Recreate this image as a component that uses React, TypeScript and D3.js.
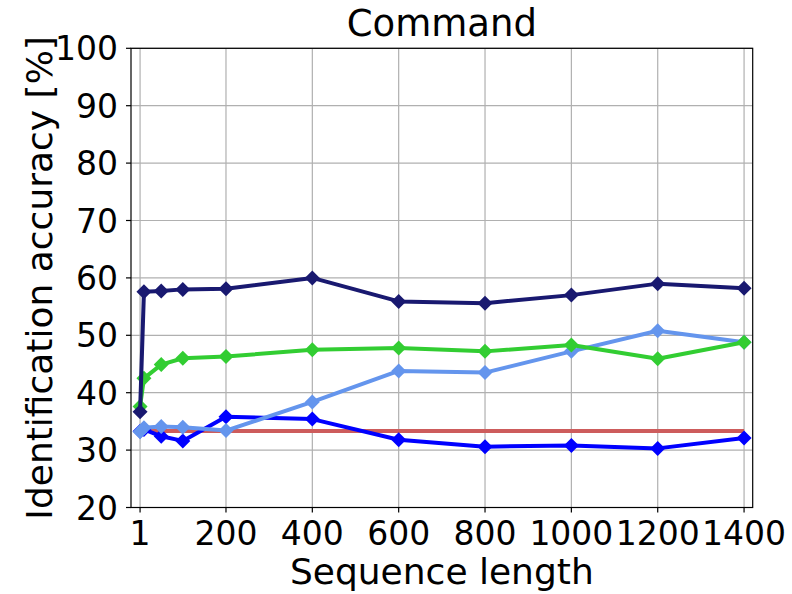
import React from "react";
import * as d3 from "d3";

const title = "Command";
const xLabel = "Sequence length";
const yLabel = "Identification accuracy [%]";
const seqLengths = [1, 10, 50, 100, 200, 400, 600, 800, 1000, 1200, 1400];
const xTicks = [1, 200, 400, 600, 800, 1000, 1200, 1400];
const yTicks = [20, 30, 40, 50, 60, 70, 80, 90, 100];

const chanceLevel = [33.33, 33.33, 33.33, 33.33, 33.33, 33.33, 33.33, 33.33, 33.33, 33.33, 33.33];
const blueSeries = [33.3, 33.6, 32.4, 31.6, 35.8, 35.4, 31.8, 30.6, 30.8, 30.3, 32.1];
const lightBlueSeries = [33.2, 33.9, 34.1, 34.0, 33.4, 38.4, 43.8, 43.5, 47.2, 50.8, 48.8];
const greenSeries = [37.6, 42.5, 44.9, 46.0, 46.3, 47.5, 47.8, 47.2, 48.3, 45.9, 48.8];
const navySeries = [36.7, 57.6, 57.7, 58.0, 58.1, 60.0, 55.9, 55.6, 57.0, 59.0, 58.2];

const series = [
  { name: "chance", values: chanceLevel, color: "#cd5c5c", marker: false },
  { name: "blue", values: blueSeries, color: "#0000ff", marker: true },
  { name: "lightblue", values: lightBlueSeries, color: "#6495ed", marker: true },
  { name: "green", values: greenSeries, color: "#32cd32", marker: true },
  { name: "navy", values: navySeries, color: "#191970", marker: true },
];

const W = 792;
const H = 594;
const left = 131;
const right = 752.7;
const top = 48.3;
const bottom = 507.5;

export default function App() {
  const x = d3.scaleLinear().domain([-20, 1420]).range([left, right]);
  const y = d3.scaleLinear().domain([20, 100]).range([bottom, top]);
  const line = d3
    .line<number>()
    .x((_, i) => x(seqLengths[i]))
    .y((v) => y(v));
  const r = 7.5;
  const diamond = (cx: number, cy: number) =>
    `M${cx},${cy - r}L${cx + r},${cy}L${cx},${cy + r}L${cx - r},${cy}Z`;
  const font = "DejaVu Sans, sans-serif";

  return (
    <svg
      width={W}
      height={H}
      style={{ position: "absolute", left: 0, top: 0, background: "#fff" }}
      fontFamily={font}
    >
      <rect x={0} y={0} width={W} height={H} fill="#fff" />
      {/* grid */}
      <g stroke="#b0b0b0" strokeWidth={1.2}>
        {xTicks.map((t) => (
          <line key={"gx" + t} x1={x(t)} x2={x(t)} y1={top} y2={bottom} />
        ))}
        {yTicks.map((t) => (
          <line key={"gy" + t} x1={left} x2={right} y1={y(t)} y2={y(t)} />
        ))}
      </g>
      {/* series */}
      {series.map((s) => (
        <g key={s.name}>
          <path
            d={line(s.values) || ""}
            fill="none"
            stroke={s.color}
            strokeWidth={4}
            strokeLinejoin="round"
            strokeLinecap="butt"
          />
          {s.marker &&
            s.values.map((v, i) => (
              <path key={i} d={diamond(x(seqLengths[i]), y(v))} fill={s.color} />
            ))}
        </g>
      ))}
      {/* frame */}
      <rect
        x={left}
        y={top}
        width={right - left}
        height={bottom - top}
        fill="none"
        stroke="#000"
        strokeWidth={1.2}
      />
      {/* x ticks */}
      {xTicks.map((t) => (
        <g key={"xt" + t}>
          <line x1={x(t)} x2={x(t)} y1={bottom} y2={bottom + 5} stroke="#000" strokeWidth={1.2} />
          <text x={x(t)} y={545} textAnchor="middle" fontSize={33} fill="#000">
            {t}
          </text>
        </g>
      ))}
      {/* y ticks */}
      {yTicks.map((t) => (
        <g key={"yt" + t}>
          <line x1={left - 5} x2={left} y1={y(t)} y2={y(t)} stroke="#000" strokeWidth={1.2} />
          <text x={118} y={y(t) + 12} textAnchor="end" fontSize={33} fill="#000">
            {t}
          </text>
        </g>
      ))}
      <text x={(left + right) / 2} y={36} textAnchor="middle" fontSize={37} fill="#000">
        {title}
      </text>
      <text x={(left + right) / 2} y={584} textAnchor="middle" fontSize={36} fill="#000">
        {xLabel}
      </text>
      <text
        transform={`translate(52,${(top + bottom) / 2}) rotate(-90)`}
        textAnchor="middle"
        fontSize={36}
        fill="#000"
      >
        {yLabel}
      </text>
    </svg>
  );
}
